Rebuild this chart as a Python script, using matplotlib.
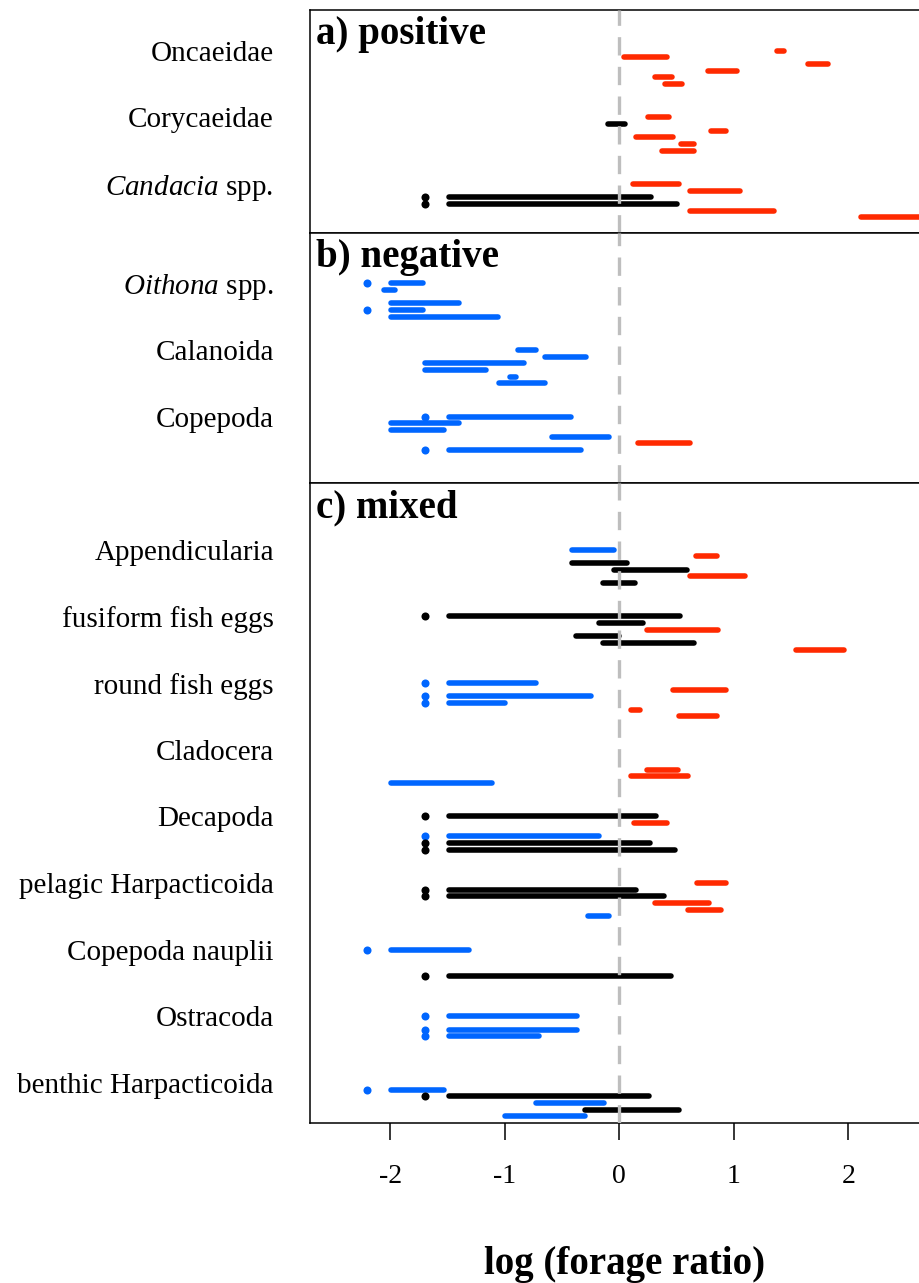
import matplotlib.pyplot as plt

plt.rcParams['font.family'] = 'Liberation Serif'
plt.rcParams['mathtext.fontset'] = 'custom'
plt.rcParams['mathtext.rm'] = 'Liberation Serif'
plt.rcParams['mathtext.it'] = 'Liberation Serif:italic'
plt.rcParams['axes.unicode_minus'] = False

# ---- data -----------------------------------------------------------------
# every panel: taxon labels, then one entry per estimate
# group = taxon index, slot = row inside the taxon block,
# lo / hi = interval of log(forage ratio), sign = selection result,
# dot = position of the point drawn for an open lower bound (None if absent)

a_labels = ["Oncaeidae", "Corycaeidae", r"$\it{Candacia}$ spp."]
a_group = [0, 0, 0, 0, 0, 0, 1, 1, 1, 1, 1, 1, 2, 2, 2, 2, 2, 2]
a_slot = [0, 1, 2, 3, 4, 5, 0, 1, 2, 3, 4, 5, 0, 1, 2, 3, 4, 5]
a_lo = [1.38, 0.04, 1.65, 0.77, 0.31, 0.40, 0.25, -0.10, 0.80, 0.15, 0.54, 0.37,
        0.12, 0.62, -1.49, -1.49, 0.62, 2.11]
a_hi = [1.44, 0.42, 1.82, 1.03, 0.46, 0.55, 0.43, 0.05, 0.93, 0.47, 0.65, 0.65,
        0.52, 1.05, 0.28, 0.50, 1.35, 2.95]
a_sign = ['pos', 'pos', 'pos', 'pos', 'pos', 'pos', 'pos', 'ns', 'pos', 'pos', 'pos', 'pos',
          'pos', 'pos', 'ns', 'ns', 'pos', 'pos']
a_dot = [None] * 14 + [-1.70, -1.70, None, None]

b_labels = [r"$\it{Oithona}$ spp.", "Calanoida", "Copepoda"]
b_group = [0, 0, 0, 0, 0, 1, 1, 1, 1, 1, 1, 2, 2, 2, 2, 2, 2]
b_slot = [0, 1, 3, 4, 5, 0, 1, 2, 3, 4, 5, 0, 1, 2, 3, 4, 5]
b_lo = [-1.99, -2.05, -1.99, -1.99, -1.99, -0.88, -0.65, -1.70, -1.70, -0.95, -1.05,
        -1.49, -1.99, -1.99, -0.59, 0.16, -1.49]
b_hi = [-1.71, -1.96, -1.40, -1.71, -1.06, -0.73, -0.29, -0.83, -1.16, -0.90, -0.65,
        -0.42, -1.40, -1.53, -0.09, 0.62, -0.33]
b_sign = ['neg'] * 15 + ['pos', 'neg']
b_dot = [-2.20, None, None, -2.20, None, None, None, None, None, None, None,
         -1.70, None, None, None, None, -1.70]

c_labels = ["Appendicularia", "fusiform fish eggs", "round fish eggs", "Cladocera",
            "Decapoda", "pelagic Harpacticoida", "Copepoda nauplii", "Ostracoda",
            "benthic Harpacticoida"]
c_group = [0, 0, 0, 0, 0, 0,
           1, 1, 1, 1, 1, 1,
           2, 2, 2, 2, 2, 2,
           3, 3, 3,
           4, 4, 4, 4, 4,
           5, 5, 5, 5, 5, 5,
           6, 6,
           7, 7, 7,
           8, 8, 8, 8, 8]
c_slot = [0, 1, 2, 3, 4, 5,
          0, 1, 2, 3, 4, 5,
          0, 1, 2, 3, 4, 5,
          3, 4, 5,
          0, 1, 3, 4, 5,
          0, 1, 2, 3, 4, 5,
          0, 4,
          0, 2, 3,
          1, 2, 3, 4, 5]
c_lo = [-0.41, 0.67, -0.41, -0.05, 0.62, -0.14,
        -1.49, -0.18, 0.24, -0.38, -0.14, 1.54,
        -1.49, 0.47, -1.49, -1.49, 0.10, 0.52,
        0.24, 0.10, -1.99,
        -1.49, 0.13, -1.49, -1.49, -1.49,
        0.68, -1.49, -1.49, 0.31, 0.60, -0.27,
        -1.99, -1.49,
        -1.49, -1.49, -1.49,
        -1.99, -1.49, -0.73, -0.30, -1.00]
c_hi = [-0.05, 0.85, 0.07, 0.59, 1.10, 0.14,
        0.53, 0.21, 0.86, 0.00, 0.65, 1.96,
        -0.73, 0.93, -0.25, -1.00, 0.18, 0.85,
        0.51, 0.60, -1.11,
        0.32, 0.42, -0.18, 0.27, 0.49,
        0.93, 0.15, 0.39, 0.78, 0.89, -0.09,
        -1.31, 0.45,
        -0.37, -0.37, -0.70,
        -1.53, 0.26, -0.13, 0.52, -0.30]
c_sign = ['neg', 'pos', 'ns', 'ns', 'pos', 'ns',
          'ns', 'ns', 'pos', 'ns', 'ns', 'pos',
          'neg', 'pos', 'neg', 'neg', 'pos', 'pos',
          'pos', 'pos', 'neg',
          'ns', 'pos', 'neg', 'ns', 'ns',
          'pos', 'ns', 'ns', 'pos', 'pos', 'neg',
          'neg', 'ns',
          'neg', 'neg', 'neg',
          'neg', 'ns', 'neg', 'ns', 'neg']
c_dot = [None, None, None, None, None, None,
         -1.70, None, None, None, None, None,
         -1.70, None, -1.70, -1.70, None, None,
         None, None, None,
         -1.70, None, -1.70, -1.70, -1.70,
         None, -1.70, -1.70, None, None, None,
         -2.20, -1.70,
         -1.70, -1.70, -1.70,
         -2.20, -1.70, None, None, None]

x_ticks = [-2, -1, 0, 1, 2]

COLOURS = {'pos': '#ff2a00', 'neg': '#0066ff', 'ns': 'black'}
GROUP_STEP = 10  # rows between two taxa


def draw_panel(ax, title, labels, group, slot, lo, hi, sign, dot, ylim):
    for g, s, x0, x1, sg, d in zip(group, slot, lo, hi, sign, dot):
        y = g * GROUP_STEP + s
        col = COLOURS[sg]
        ax.plot([x0, x1], [y, y], color=col, lw=4.0, solid_capstyle='round')
        if d is not None:
            ax.plot(d, y, 'o', color=col, ms=5.8, mec='none')
    ax.axvline(0, color='#bebebe', lw=2.4, dashes=(5.5, 3.4), zorder=5)
    ax.set_xlim(-2.70, 2.79)
    ax.set_ylim(*ylim)
    ax.set_yticks([g * GROUP_STEP for g in range(len(labels))])
    ax.set_yticklabels(labels, fontsize=21)
    ax.tick_params(axis='y', length=0, pad=26)
    for sp in ax.spines.values():
        sp.set_linewidth(1.1)
    ax.annotate(title, xy=(0, 1), xycoords='axes fraction', xytext=(6, -34),
                textcoords='offset pixels', fontsize=28, fontweight='bold',
                ha='left', va='baseline')


fig = plt.figure(figsize=(9.19, 12.83), dpi=100)
left, width = 0.3373, 0.6844
ax_a = fig.add_axes([left, 0.8184, width, 0.1738])
ax_b = fig.add_axes([left, 0.6235, width, 0.1949])
ax_c = fig.add_axes([left, 0.1247, width, 0.4988])

draw_panel(ax_a, "a) positive", a_labels, a_group, a_slot, a_lo, a_hi, a_sign, a_dot,
           (27.35, -6.1))
draw_panel(ax_b, "b) negative", b_labels, b_group, b_slot, b_lo, b_hi, b_sign, b_dot,
           (29.95, -7.55))
draw_panel(ax_c, "c) mixed", c_labels, c_group, c_slot, c_lo, c_hi, c_sign, c_dot,
           (86.0, -10.0))

for ax in (ax_a, ax_b):
    ax.tick_params(axis='x', bottom=False, labelbottom=False)

ax_c.set_xticks(x_ticks)
ax_c.set_xticklabels([str(t) for t in x_ticks], fontsize=20)
ax_c.tick_params(axis='x', length=12.5, width=1.1, pad=17)

fig.text(624.5 / 919, 0.0068, "log (forage ratio)", fontsize=28, fontweight='bold',
         ha='center', va='baseline')

fig.savefig("out.png", dpi=100)
